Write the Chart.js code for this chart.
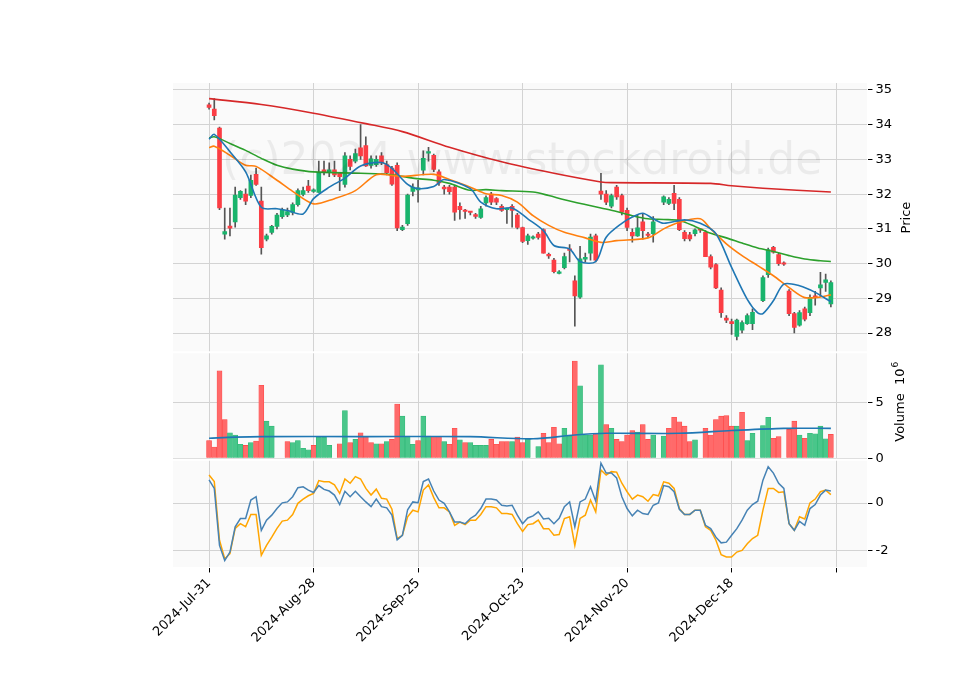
<!DOCTYPE html>
<html><head><meta charset="utf-8">
<script src="https://cdn.jsdelivr.net/npm/chart.js@4"></script>
<style>html,body{margin:0;background:#fff}#w{width:960px;height:690px}</style>
</head><body><div id="w"><canvas id="c"></canvas></div>
<script>
const tickLabels=['2024-Jul-31','2024-Aug-28','2024-Sep-25','2024-Oct-23','2024-Nov-20','2024-Dec-18',''];
const opens=[34.57,34.45,33.9,30.85,31.08,31.2,31.9,32.0,31.96,32.57,
31.8,30.7,30.9,31.07,31.35,31.4,31.47,31.7,31.99,32.23,
32.08,32.05,32.7,32.62,32.7,32.6,32.28,33.0,32.95,33.33,
33.4,32.83,32.85,33.1,32.85,32.75,32.83,30.98,31.15,32.08,
32.12,32.69,33.18,33.12,32.64,32.2,32.2,32.2,31.65,31.53,
31.5,31.41,31.33,31.75,32.0,31.87,31.65,31.55,31.65,31.4,
31.04,30.66,30.73,30.85,30.98,30.24,30.1,29.72,29.88,30.42,
29.5,29.03,30.13,30.3,30.8,32.09,32.0,31.65,32.2,31.96,
31.53,30.9,30.8,31.2,30.85,30.86,null,31.77,31.73,32.02,
31.85,30.9,30.83,30.86,30.97,30.9,30.2,29.97,29.24,28.43,
28.33,27.9,28.08,28.27,28.27,null,28.93,29.68,30.47,30.26,
30.0,29.21,28.56,28.23,28.7,28.59,29.07,29.3,29.46,28.84];
const closes=[34.5,34.26,31.6,30.92,31.02,31.97,32.08,31.8,32.4,32.28,
30.46,30.8,31.07,31.4,31.55,31.5,31.7,32.1,32.1,32.1,
32.12,32.63,32.62,32.7,32.55,32.5,33.1,32.8,33.17,33.1,
32.81,33.02,33.0,32.9,32.62,32.29,31.03,31.05,31.97,32.2,
32.18,33.03,33.22,32.71,32.32,32.15,32.07,31.48,31.55,31.5,
31.47,31.36,31.58,31.9,31.77,31.77,31.53,31.58,31.53,31.04,
30.64,30.8,30.76,30.75,30.3,30.22,29.77,29.76,30.2,30.38,
29.07,30.14,30.18,30.76,30.1,32.0,31.77,31.96,31.92,31.48,
31.04,30.8,31.03,30.95,30.81,31.2,null,31.92,31.85,31.73,
30.98,30.72,30.71,30.97,30.96,30.2,29.9,29.3,28.59,28.37,
28.27,28.37,28.3,28.5,28.6,null,29.6,30.4,30.33,30.0,
29.98,28.56,28.16,28.59,28.4,29.03,29.02,29.39,29.53,29.45];
const highs=[34.62,34.75,33.93,31.6,31.6,32.2,32.1,32.15,32.55,32.75,
32.2,30.85,31.1,31.45,31.6,31.6,31.75,32.15,32.2,32.4,
32.15,32.95,32.95,32.9,32.95,32.6,33.2,33.1,33.3,34.0,
33.65,33.1,33.1,33.2,32.95,32.8,32.9,31.1,32.0,32.3,
32.4,33.25,33.35,33.15,32.7,32.25,32.25,32.25,31.75,31.56,
31.5,31.45,31.65,31.95,32.05,31.9,31.7,31.6,31.7,31.45,
31.05,30.85,30.8,30.9,31.0,30.3,30.15,29.8,30.3,30.55,
29.65,30.5,30.3,30.85,30.85,32.6,32.1,32.0,32.25,32.0,
31.6,31.0,31.4,31.45,30.9,31.35,null,31.95,31.9,32.25,
31.9,30.95,30.9,31.0,31.0,30.95,30.25,30.0,29.3,28.5,
28.4,28.4,28.35,28.55,28.7,null,29.65,30.45,30.5,30.3,
30.05,29.25,28.6,28.65,28.75,29.1,29.2,29.75,29.7,29.5];
const lows=[34.45,34.14,31.55,30.7,30.8,31.05,31.85,31.7,31.9,32.25,
30.27,30.65,30.85,31.0,31.3,31.35,31.4,31.65,31.95,32.05,
32.05,32.05,32.55,32.5,32.5,32.1,32.2,32.7,32.9,33.0,
32.8,32.75,32.8,32.85,32.55,32.25,30.95,30.95,31.1,31.95,
31.77,32.55,32.95,32.65,32.25,32.0,32.0,31.24,31.28,31.3,
31.4,31.3,31.3,31.65,31.7,31.7,31.5,31.16,31.05,31.0,
30.6,30.55,30.7,30.7,30.3,30.15,29.73,29.7,29.85,30.05,
28.2,29.0,30.05,30.1,30.05,31.85,31.7,31.6,31.85,31.4,
30.95,30.62,30.78,30.7,30.75,30.62,null,31.7,31.7,31.55,
30.95,30.65,30.65,30.8,30.9,30.2,29.85,29.28,28.45,28.3,
27.96,27.8,28.0,28.25,28.1,null,28.9,29.6,30.3,29.95,
29.95,28.5,28.0,28.2,28.35,28.5,28.8,29.05,29.2,28.75];
const volumes=[1.6,1.0,7.9,3.5,2.3,2.1,1.25,1.15,1.4,1.55,
6.6,3.35,2.9,null,null,1.5,1.4,1.6,0.9,0.75,
1.15,1.9,1.9,1.15,null,1.3,4.3,1.4,1.7,2.3,
1.95,1.4,1.3,1.3,1.5,1.7,4.9,3.8,2.0,1.25,
1.6,3.8,2.0,1.95,1.95,1.5,1.25,2.7,1.65,1.4,
1.4,1.15,1.15,1.15,1.7,1.25,1.5,1.5,1.5,1.9,
1.4,1.8,null,1.05,2.25,1.4,2.8,1.3,2.7,2.0,
8.8,6.55,2.1,2.1,2.25,8.45,3.05,2.7,1.7,1.5,
2.1,2.5,2.35,3.05,1.7,2.1,null,2.0,2.7,3.7,
3.3,2.9,1.5,1.65,null,2.7,2.1,3.5,3.8,3.85,
2.9,2.9,4.15,1.6,2.25,null,2.95,3.7,1.8,1.95,
null,2.6,3.35,2.1,1.8,2.25,2.2,2.9,1.75,2.15];
const volUpIdx=[4,5,6,8,11,12,16,17,18,19,21,22,23,26,28,32,34,37,38,39,41,42,45,48,50,51,52,53,58,61,63,68,69,71,72,73,75,77,82,85,87,93,101,103,104,106,107,113,115,116,117,118];
const maBlue=[[0,33.58],[1,33.72],[4,33.22],[7,32.64],[10,31.62],[13,31.58],[15,31.53],[18,31.43],[20,31.87],[23,32.2],[26,32.46],[29,32.81],[33,32.91],[35,32.74],[38,32.28],[40,32.16],[43,32.22],[45,32.42],[50,32.16],[52,31.77],[55,31.58],[58,31.6],[61,31.29],[64,30.95],[66,30.52],[69,30.42],[71,30.06],[74,30.06],[76,30.76],[79,31.16],[81,31.34],[83,31.45],[85,31.29],[87,31.16],[91,31.26],[94,31.16],[97,30.86],[100,29.89],[103,28.97],[105,28.58],[106,28.56],[108,28.93],[110,29.41],[113,29.36],[116,29.17],[119,28.9]];
const maOrange=[[0,33.34],[1,33.38],[4,33.12],[7,32.83],[9,32.8],[13,32.4],[16,32.08],[20,31.72],[24,31.87],[28,32.1],[32,32.56],[35,32.54],[37,32.51],[43,32.57],[46,32.42],[50,32.2],[53,32.01],[56,31.96],[59,31.77],[62,31.38],[65,31.1],[68,30.9],[72,30.74],[75,30.61],[78,30.66],[84,30.74],[87,31.0],[90,31.19],[94,31.29],[96,31.0],[99,30.57],[102,30.23],[105,29.94],[108,29.65],[111,29.31],[114,29.02],[117,29.04],[119,29.1]];
const maGreen=[[0,33.62],[1,33.65],[4,33.46],[7,33.26],[10,33.03],[13,32.83],[16,32.72],[20,32.64],[29,32.6],[35,32.56],[39,32.46],[43,32.4],[46,32.31],[50,32.11],[53,32.13],[56,32.1],[62,32.06],[65,31.96],[68,31.84],[72,31.7],[75,31.6],[78,31.5],[81,31.38],[84,31.29],[87,31.27],[90,31.24],[93,31.07],[96,30.87],[99,30.74],[102,30.59],[105,30.45],[108,30.35],[111,30.23],[114,30.13],[117,30.08],[119,30.06]];
const maRed=[[0,34.75],[10,34.58],[20,34.33],[30,34.03],[37,33.8],[46,33.35],[56,32.93],[66,32.6],[75,32.35],[77,32.33],[96,32.31],[100,32.24],[106,32.17],[119,32.06]];
const volMA=[[0,1.8],[5,1.9],[10,1.95],[30,1.95],[50,1.95],[62,1.75],[70,2.1],[76,2.25],[90,2.25],[100,2.5],[110,2.7],[119,2.7]];
const oscBlue=[0.98,0.62,-1.79,-2.43,-2.07,-1.0,-0.65,-0.65,0.13,0.27,
-1.15,-0.72,-0.51,-0.23,0.01,0.05,0.27,0.65,0.69,0.55,
0.45,0.74,0.58,0.51,0.34,-0.06,0.5,0.27,0.5,0.27,
0.05,-0.15,0.17,-0.15,-0.2,-0.51,-1.55,-1.36,-0.28,0.05,
0.02,0.91,1.02,0.51,0.13,-0.01,-0.37,-0.8,-0.8,-0.87,
-0.65,-0.51,-0.23,0.17,0.17,0.13,-0.09,-0.12,-0.09,-0.51,
-0.87,-0.63,-0.54,-0.37,-0.67,-0.64,-0.87,-0.64,-0.15,0.05,
-1.0,0.05,0.17,0.69,0.08,1.69,1.27,1.27,1.06,0.27,
-0.23,-0.54,-0.3,-0.44,-0.48,-0.09,0.01,0.74,0.69,0.48,
-0.26,-0.48,-0.48,-0.3,-0.3,-0.94,-1.08,-1.44,-1.68,-1.65,
-1.36,-1.08,-0.72,-0.3,-0.06,0.08,0.97,1.54,1.27,0.84,
0.62,-0.87,-1.15,-0.77,-0.94,-0.23,-0.06,0.34,0.55,0.51];
const oscOrange=[1.19,0.91,-1.57,-2.35,-2.14,-1.07,-0.87,-1.0,-0.48,-0.48,
-2.21,-1.79,-1.44,-1.07,-0.76,-0.72,-0.48,-0.01,0.17,0.31,
0.41,0.95,0.9,0.9,0.77,0.41,1.02,0.84,1.12,1.02,
0.62,0.34,0.59,0.2,0.17,-0.26,-1.5,-1.36,-0.58,-0.3,
-0.37,0.55,0.77,0.23,-0.2,-0.2,-0.37,-0.94,-0.8,-0.91,
-0.72,-0.72,-0.48,-0.15,-0.15,-0.2,-0.44,-0.44,-0.48,-0.87,
-1.2,-0.91,-0.87,-0.72,-1.08,-1.08,-1.36,-1.33,-0.65,-0.58,
-1.79,-0.65,-0.51,0.13,-0.37,1.4,1.19,1.33,1.31,0.84,
0.48,0.17,0.34,0.27,0.08,0.36,0.31,0.9,0.84,0.62,
-0.23,-0.48,-0.48,-0.3,-0.3,-1.0,-1.15,-1.57,-2.18,-2.28,
-2.28,-2.07,-2.0,-1.72,-1.5,-1.36,-0.3,0.62,0.62,0.45,
0.48,-0.87,-1.15,-0.58,-0.67,0.01,0.17,0.48,0.55,0.36];

const idx=opens.map((_,i)=>i);
const RED='#fb3d44', GREEN='#19b46c', VRED='#ff6a6a', VGREEN='#49c68a';
const up=i=>closes[i]>opens[i];
const pts=a=>a.map(p=>({x:p[0],y:p[1]}));
const bgPlugin={id:'bg',beforeDraw(ch){const a=ch.chartArea,c=ch.ctx;c.save();c.fillStyle='#fafafa';c.fillRect(a.left,a.top,a.right-a.left,a.bottom-a.top);c.restore();},
 afterDatasetsDraw(ch){const c=ch.ctx,a=ch.chartArea,yP=ch.scales.yP,yV=ch.scales.yV;c.save();c.fillStyle='rgba(0,0,0,0.06)';c.font='44px "DejaVu Sans"';c.textAlign='center';c.textBaseline='middle';c.fillText('(c)2024 www.stockdroid.de',(a.left+a.right)/2+2,yP.getPixelForValue(32.9));
 c.strokeStyle='#fff';c.lineWidth=2;[yV.top,ch.scales.yM.top].forEach(y=>{c.beginPath();c.moveTo(a.left,y);c.lineTo(a.right,y);c.stroke();});
 c.fillStyle='#000';c.font='13px "DejaVu Sans"';c.textAlign='center';c.textBaseline='middle';
 c.save();c.translate(a.right+39,(yP.top+yP.bottom)/2);c.rotate(-Math.PI/2);c.fillText('Price',0,0);c.restore();
 c.save();c.translate(a.right+33,yV.getPixelForValue(4.8));c.rotate(-Math.PI/2);c.textAlign='left';
 const t='Volume  10',w=c.measureText(t).width;c.fillText(t,-w/2,0);c.font='9px "DejaVu Sans"';c.fillText('6',w/2+1,-5);c.restore();
 c.restore();}};
const common={grid:{color:'#d3d3d3',tickLength:5,tickColor:'#000',offset:false},border:{color:'#fff'},ticks:{color:'#000',font:{family:'DejaVu Sans',size:13}}};
new Chart(document.getElementById('c'),{
 data:{datasets:[
  {type:'bar',yAxisID:'yP',data:idx.filter(i=>highs[i]!=null).map(i=>({x:i,y:[lows[i],highs[i]]})),backgroundColor:'#555',barThickness:1,grouped:false,order:3},
  {type:'bar',yAxisID:'yP',data:idx.filter(i=>opens[i]!=null).map(i=>({x:i,y:[opens[i],closes[i]]})),backgroundColor:ctx=>up(ctx.raw.x)?GREEN:RED,barThickness:4,minBarLength:1.5,grouped:false,order:2},
  {type:'line',yAxisID:'yP',data:pts(maBlue),borderColor:'#1f77b4',borderWidth:1.6,pointRadius:0,tension:0.3,order:1},
  {type:'line',yAxisID:'yP',data:pts(maOrange),borderColor:'#ff7f0e',borderWidth:1.6,pointRadius:0,tension:0.3,order:1},
  {type:'line',yAxisID:'yP',data:pts(maGreen),borderColor:'#2ca02c',borderWidth:1.6,pointRadius:0,tension:0.3,order:1},
  {type:'line',yAxisID:'yP',data:pts(maRed),borderColor:'#d62728',borderWidth:1.6,pointRadius:0,tension:0.3,order:1},
  {type:'bar',yAxisID:'yV',data:idx.filter(i=>volumes[i]!=null).map(i=>({x:i,y:volumes[i]})),backgroundColor:ctx=>volUpIdx.includes(ctx.raw.x)?VGREEN:VRED,borderColor:ctx=>volUpIdx.includes(ctx.raw.x)?'#2fb875':'#f44',borderWidth:0.6,barThickness:5,grouped:false,order:2},
  {type:'line',yAxisID:'yV',data:pts(volMA),borderColor:'#1f77b4',borderWidth:1.6,pointRadius:0,tension:0.3,order:1},
  {type:'line',yAxisID:'yM',data:idx.map(i=>({x:i,y:oscBlue[i]})),borderColor:'#4682b4',borderWidth:1.5,pointRadius:0,order:1},
  {type:'line',yAxisID:'yM',data:idx.map(i=>({x:i,y:oscOrange[i]})),borderColor:'#ffa500',borderWidth:1.5,pointRadius:0,order:1}
 ]},
 options:{responsive:true,maintainAspectRatio:false,animation:false,
  layout:{padding:{left:173,right:65,top:83,bottom:41}},
  plugins:{legend:{display:false},tooltip:{enabled:false}},
  scales:{
   x:{type:'linear',min:-6.9,max:126,offset:false,...common,
      afterBuildTicks:s=>{s.ticks=[0,20,40,60,80,100,120].map(v=>({value:v}));},
      ticks:{...common.ticks,autoSkip:false,maxRotation:45,minRotation:45,callback:v=>tickLabels[v/20]}},
   yP:{type:'linear',position:'right',stack:'p',stackWeight:2.5,min:27.45,max:35.2,...common,
      afterBuildTicks:s=>{s.ticks=[28,29,30,31,32,33,34,35].map(v=>({value:v}));}},
   yV:{type:'linear',position:'right',stack:'p',stackWeight:1,min:-0.15,max:9.6,...common,
      afterBuildTicks:s=>{s.ticks=[0,5].map(v=>({value:v}));}},
   yM:{type:'linear',position:'right',stack:'p',stackWeight:1,min:-2.72,max:1.83,...common,
      afterBuildTicks:s=>{s.ticks=[-2,0].map(v=>({value:v}));}}
  }}
 ,plugins:[bgPlugin]});
</script></body></html>
